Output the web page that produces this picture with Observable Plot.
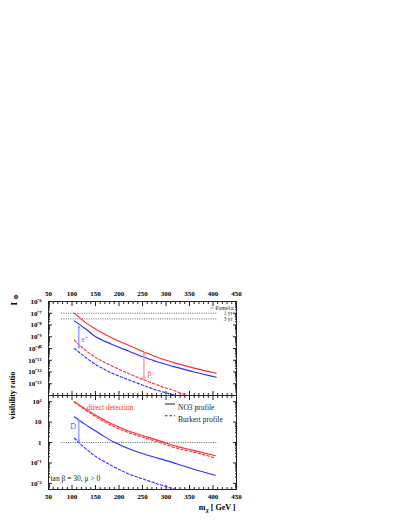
<!DOCTYPE html>
<html><head><meta charset="utf-8">
<script src="https://cdn.jsdelivr.net/npm/d3@7"></script>
<script src="https://cdn.jsdelivr.net/npm/@observablehq/plot@0.6"></script>
<style>
html,body{margin:0;padding:0;background:#fff;}
#wrap{position:relative;width:407px;height:527px;overflow:hidden;}
#wrap svg{position:absolute;left:0;top:0;}
</style></head><body><div id="wrap"></div>
<script>
// ---------- data ----------
// top panel: fluxes I_Phi vs neutralino mass (GeV)
const pbarNO3Mass = [104,127,148,183,219,254,281,317,360,407];
const pbarNO3Flux = [1.07e-7,1.86e-8,5.0e-9,8.7e-10,2.0e-10,4.9e-11,1.78e-11,6.3e-12,2.14e-12,7.9e-13];
const posNO3Mass  = [105,127,148,183,219,254,281,317,360,407];
const posNO3Flux  = [2.24e-8,5.25e-9,1.15e-9,2.45e-10,6.3e-11,1.78e-11,7.4e-12,2.88e-12,1.0e-12,3.6e-13];
const pbarBurMass = [105,127,148,183,219,254,288,320,338,360];
const pbarBurFlux = [5.25e-10,7.9e-11,2.0e-11,3.55e-12,7.9e-13,2.1e-13,6.3e-14,2.4e-14,1.26e-14,5.6e-15];
const posBurMass  = [105,127,148,183,219,254,281,317,340];
const posBurFlux  = [1.02e-10,2.0e-11,5.0e-12,8.9e-13,2.24e-13,6.8e-14,2.8e-14,1.1e-14,5.6e-15];

// bottom panel: visibility ratios
const ddMass      = [105,146,182,217,253,288,324,359,405];
const ddNO3Ratio  = [100,25.1,8.7,3.9,2.09,1.17,0.63,0.41,0.224];
const ddBurRatio  = [93,21.4,7.2,3.24,1.74,0.98,0.52,0.34,0.174];
const dbarNO3Mass  = [105,127,146,168,189,217,253,288,324,359,405];
const dbarNO3Ratio = [18.2,7.9,4.2,2.0,1.05,0.54,0.275,0.158,0.089,0.049,0.025];
const dbarBurMass  = [105,146,182,217,253,288,324,345];
const dbarBurRatio = [1.62,0.245,0.079,0.0316,0.0158,0.0085,0.0048,0.0035];

// reference levels
const pamelaLevels = [1e-7, 3.3e-8];
const pamelaLabels = ["1 yr", "3 yr"];
const refSpan = [78, 410];
const unityLevel = [1];

// arrows (mass, from, to) and their labels
const topArrowMass = [114.5, 253];
const topArrowFrom = [7.9e-9, 4.5e-11];
const topArrowTo   = [1.1e-10, 2.2e-13];
const botArrowMass = [114.5];
const botArrowFrom = [12.6];
const botArrowTo   = [1.12];
const labelPos     = {m: 126.6, v: 5.9e-10};
const labelPbar    = {m: 265, v: 7.9e-13};
const labelDbar    = {m: 102.5, v: 6.0};
const labelDD      = {m: 132, v: 51};
const legendLabels = ["NO3 profile", "Burkert profile"];

// ticks
const xMajor = [50,100,150,200,250,300,350,400,450];
const xMinor = d3.range(50, 451, 10).filter(d => d % 50 !== 0);
const topDecades = [1e-6,1e-7,1e-8,1e-9,1e-10,1e-11,1e-12,1e-13,1e-14];
const topLabeled = topDecades.slice(0, 8);
const botDecades = [100,10,1,0.1,0.01];

// ---------- helpers ----------
const rows = (ms, vs) => ms.map((m, i) => ({m, v: vs[i]}));
const supMap = {"-":"\u207B","0":"\u2070","1":"\u00B9","2":"\u00B2","3":"\u00B3","4":"\u2074","5":"\u2075","6":"\u2076","7":"\u2077","8":"\u2078","9":"\u2079"};
const pow10 = d => { const e = Math.round(Math.log10(d)); return "10" + String(e).split("").map(c => supMap[c]).join(""); };
const botFmt = d => d === 1 ? "1" : d === 10 ? "10" : pow10(d);
const minorLog = (lo, hi) => { const out = []; for (let e = lo; e < hi; e++) for (let k = 2; k < 10; k++) out.push(k * Math.pow(10, e)); return out; };
const botMinor = minorLog(-3, 3).filter(d => d >= 0.005 && d <= 200);
const topMinor = minorLog(-14, -6);

const RED = "#ff2b2b", BLUE = "#2b2bff", LRED = "#ff8f8f", LBLUE = "#8f8fff", FRAME = "#222";
const W = 407, H = 527, ML = 48, MR = 171;
const style = {fontFamily: "'Liberation Serif','Times New Roman',serif", fontSize: "7px", fontWeight: "bold", background: "transparent", overflow: "visible"};

function xAxes(anchorTop, labels, pad) {
  const a = anchorTop ? "top" : "bottom";
  return [
    Plot.axisX({anchor: a, ticks: xMajor, tickSize: -4, tickPadding: pad, tickFormat: labels ? (d => String(d)) : (() => ""), label: null, stroke: FRAME}),
    Plot.axisX({anchor: a, ticks: xMinor, tickSize: -2, tickFormat: () => "", label: null, stroke: FRAME})
  ];
}
function yAxes(major, labeled, minor, fmt) {
  return [
    Plot.axisY({anchor: "left", ticks: labeled, tickSize: 0, tickPadding: 7, tickFormat: fmt, label: null}),
    Plot.axisY({anchor: "left", ticks: major, tickSize: -4, tickFormat: () => "", label: null, stroke: FRAME}),
    Plot.axisY({anchor: "left", ticks: minor, tickSize: -2, tickFormat: () => "", label: null, stroke: FRAME}),
    Plot.axisY({anchor: "right", ticks: major, tickSize: -4, tickFormat: () => "", label: null, stroke: FRAME}),
    Plot.axisY({anchor: "right", ticks: minor, tickSize: -2, tickFormat: () => "", label: null, stroke: FRAME})
  ];
}
const doubleArrow = (ms, from, to, color) => {
  const d = ms.map((m, i) => ({m, a: from[i], b: to[i]}));
  return [
    Plot.arrow(d, {x1: "m", y1: "a", x2: "m", y2: "b", stroke: color, strokeWidth: 0.8, headLength: 4, bend: 0}),
    Plot.arrow(d, {x1: "m", y1: "b", x2: "m", y2: "a", stroke: color, strokeWidth: 0.8, headLength: 4, bend: 0})
  ];
};

// ---------- top panel ----------
const topPlot = Plot.plot({
  width: W, height: H,
  marginTop: 301, marginBottom: H - 395, marginLeft: ML, marginRight: MR,
  x: {domain: [50, 450]},
  y: {type: "log", domain: [1e-14, 1e-6]},
  style,
  marks: [
    ...xAxes(true, true, 10),
    ...xAxes(false, false, 0),
    ...yAxes(topDecades, topLabeled, topMinor, pow10),
    Plot.ruleY(pamelaLevels, {y: d => d, x1: refSpan[0], x2: refSpan[1], stroke: "#444", strokeWidth: 0.8, strokeDasharray: "1,1.3"}),
    Plot.text(pamelaLevels, {y: d => d, frameAnchor: "right", dx: -4, textAnchor: "end", text: (d, i) => pamelaLabels[i], fontWeight: "normal", fontSize: 5.6, fill: "#333"}),
    Plot.text(["~ Pamela:"], {frameAnchor: "top-right", dx: -2, dy: 3.8, textAnchor: "end", text: d => d, fontWeight: "normal", fontSize: 6, fill: "#333"}),
    Plot.line(rows(pbarNO3Mass, pbarNO3Flux), {x: "m", y: "v", stroke: RED, strokeWidth: 1.1, curve: "monotone-x", clip: true}),
    Plot.line(rows(posNO3Mass, posNO3Flux), {x: "m", y: "v", stroke: BLUE, strokeWidth: 1.1, curve: "monotone-x", clip: true}),
    Plot.line(rows(pbarBurMass, pbarBurFlux), {x: "m", y: "v", stroke: RED, strokeWidth: 1.1, strokeDasharray: "2.5,2", curve: "monotone-x", clip: true}),
    Plot.line(rows(posBurMass, posBurFlux), {x: "m", y: "v", stroke: BLUE, strokeWidth: 1.1, strokeDasharray: "2.5,2", curve: "monotone-x", clip: true}),
    ...doubleArrow(topArrowMass.slice(0,1), topArrowFrom.slice(0,1), topArrowTo.slice(0,1), LBLUE),
    ...doubleArrow(topArrowMass.slice(1), topArrowFrom.slice(1), topArrowTo.slice(1), LRED),
    Plot.text([labelPos], {x: "m", y: "v", text: () => "e\u207A", fill: "#6f6fff", fontWeight: "normal", fontSize: 8}),
    Plot.text([labelPbar], {x: "m", y: "v", text: () => "p\u0304", fill: "#ff5a5a", fontWeight: "normal", fontSize: 8}),
    Plot.text(["I"], {frameAnchor: "top-left", dx: -38, dy: 4, rotate: -90, text: d => d, fontSize: 9}),
    Plot.text(["\u03A6"], {frameAnchor: "top-left", dx: -35, dy: -2, rotate: -90, text: d => d, fontSize: 6}),
    Plot.frame({stroke: FRAME, strokeWidth: 1})
  ]
});

// ---------- bottom panel ----------
const legendSwatches = (index, scales, values, dims) => {
  const g = d3.create("svg:g");
  const xr = dims.width - dims.marginRight;
  const y0 = dims.marginTop;
  [["none", 9], ["2.5,2", 20.7]].forEach(([dash, dy]) => {
    g.append("line").attr("x1", xr - 71).attr("x2", xr - 61).attr("y1", y0 + dy).attr("y2", y0 + dy)
      .attr("stroke", "#333").attr("stroke-width", 1.1).attr("stroke-dasharray", dash);
  });
  return g.node();
};
const legendText = (label, dy) => Plot.text([label], {frameAnchor: "top-right", dx: -58.5, dy, textAnchor: "start", text: d => d, fontWeight: "normal", fontSize: 7.5, fill: "#222"});

const botPlot = Plot.plot({
  width: W, height: H,
  marginTop: 395, marginBottom: H - 489, marginLeft: ML, marginRight: MR,
  x: {domain: [50, 450]},
  y: {type: "log", domain: [0.005, 200]},
  style,
  marks: [
    ...xAxes(true, false, 0),
    ...xAxes(false, true, 9),
    ...yAxes(botDecades, botDecades, botMinor, botFmt),
    Plot.ruleY(unityLevel, {y: d => d, x1: refSpan[0], x2: refSpan[1], stroke: "#444", strokeWidth: 0.8, strokeDasharray: "1,1.3"}),
    Plot.line(rows(ddMass, ddNO3Ratio), {x: "m", y: "v", stroke: RED, strokeWidth: 1.1, curve: "monotone-x", clip: true}),
    Plot.line(rows(ddMass, ddBurRatio), {x: "m", y: "v", stroke: RED, strokeWidth: 1.1, strokeDasharray: "2.5,2", curve: "monotone-x", clip: true}),
    Plot.line(rows(dbarNO3Mass, dbarNO3Ratio), {x: "m", y: "v", stroke: BLUE, strokeWidth: 1.1, curve: "monotone-x", clip: true}),
    Plot.line(rows(dbarBurMass, dbarBurRatio), {x: "m", y: "v", stroke: BLUE, strokeWidth: 1.1, strokeDasharray: "2.5,2", curve: "monotone-x", clip: true}),
    ...doubleArrow(botArrowMass, botArrowFrom, botArrowTo, LBLUE),
    Plot.text([labelDbar], {x: "m", y: "v", text: () => "D\u0304", fill: "#5a5aff", fontWeight: "normal", fontSize: 8}),
    Plot.text([labelDD], {x: "m", y: "v", text: () => "direct detection", textAnchor: "start", fill: RED, fontWeight: "normal", fontSize: 7.5}),
    legendSwatches,
    legendText(legendLabels[0], 9),
    legendText(legendLabels[1], 20.7),
    Plot.text(["tan \u03B2 = 30, \u03BC > 0"], {frameAnchor: "bottom-left", dx: 2, dy: -9, textAnchor: "start", text: d => d, fontWeight: "normal", fontSize: 7.5, fill: "#222"}),
    Plot.text(["visibility ratio"], {frameAnchor: "left", dx: -36, dy: -23, rotate: -90, text: d => d, fontSize: 8}),
    Plot.text(["[ GeV ]"], {frameAnchor: "bottom-right", dx: -1, dy: 20, textAnchor: "end", text: d => d, fontSize: 8}),
    Plot.text(["\u03C7"], {frameAnchor: "bottom-right", dx: -28, dy: 22, textAnchor: "end", text: d => d, fontSize: 5.5}),
    Plot.text(["m"], {frameAnchor: "bottom-right", dx: -31, dy: 20, textAnchor: "end", text: d => d, fontSize: 8}),
    Plot.frame({stroke: FRAME, strokeWidth: 1})
  ]
});

document.getElementById("wrap").append(botPlot, topPlot);
</script>
</body></html>
